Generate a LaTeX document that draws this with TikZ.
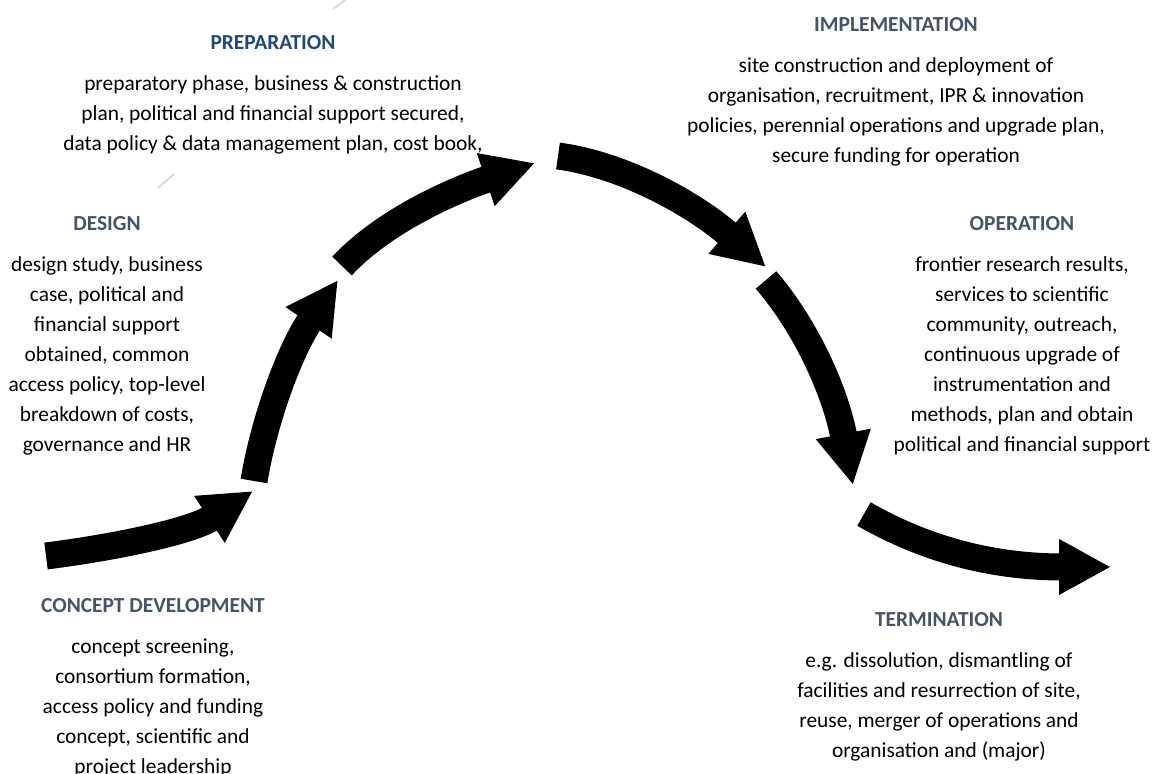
\documentclass[tikz,border=0pt]{standalone}
\usepackage{fontspec}
\setmainfont{Carlito}
\usetikzlibrary{positioning,arrows.meta}
\definecolor{stageblue}{HTML}{1F497D}
\definecolor{stagegrey}{HTML}{44546A}

\begin{document}
\begin{tikzpicture}
		[x=0.5pt,y=-0.5pt,
			stage/.style={font=\fontsize{10.7}{15}\selectfont\bfseries, text=stagegrey, inner sep=0pt},
			blurb/.style={font=\fontsize{10.7}{15}\selectfont, align=center, inner sep=0pt},
			flow/.style={line width=13.5pt, -{Triangle[length=26pt,width=26pt]}}]
		\useasboundingbox (0,0) rectangle (1158,774);

		% stray marks
		\draw[gray!35, line width=0.8pt] (333,9) -- (348,-2);
		\draw[gray!35, line width=0.8pt] (158,188) -- (174,174);

		% phases
		\node[stage, text=stageblue] (prep) at (273,43) {PREPARATION};
		\node[blurb, below=12.5pt of prep] (prep-text) {preparatory phase, business \& construction\\
			plan, political and financial support secured,\\
			data policy \& data management plan, cost book,};

		\node[stage] (impl) at (896,25) {IMPLEMENTATION};
		\node[blurb, below=12.5pt of impl] (impl-text) {site construction and deployment of\\
			organisation, recruitment, IPR \& innovation\\
			policies, perennial operations and upgrade plan,\\
			secure funding for operation};

		\node[stage] (design) at (107,224) {DESIGN};
		\node[blurb, below=12.5pt of design] (design-text) {design study, business\\
			case, political and\\
			financial support\\
			obtained, common\\
			access policy, top-level\\
			breakdown of costs,\\
			governance and HR};

		\node[stage] (oper) at (1022,224) {OPERATION};
		\node[blurb, below=12.5pt of oper] (oper-text) {frontier research results,\\
			services to scientific\\
			community, outreach,\\
			continuous upgrade of\\
			instrumentation and\\
			methods, plan and obtain\\
			political and financial support};

		\node[stage] (concept) at (153,606) {CONCEPT DEVELOPMENT};
		\node[blurb, below=12.5pt of concept] (concept-text) {concept screening,\\
			consortium formation,\\
			access policy and funding\\
			concept, scientific and\\
			project leadership};

		\node[stage] (term) at (939,620) {TERMINATION};
		\node[blurb, below=12.5pt of term] (term-text) {e.g. dissolution, dismantling of\\
			facilities and resurrection of site,\\
			reuse, merger of operations and\\
			organisation and (major)};

		% arrows
		\coordinate (s1) at (46,556);
		\coordinate (e1) at (253,491);
		\coordinate (s2) at (254,481);
		\coordinate (e2) at (338,280);
		\coordinate (s3) at (342,266);
		\coordinate (e3) at (535,163);
		\coordinate (s4) at (558,156);
		\coordinate (e4) at (766,267);
		\coordinate (s5) at (766,280);
		\coordinate (e5) at (853,485);
		\coordinate (s6) at (864,514);
		\coordinate (e6) at (1111,567);

		\draw[flow] (s1) .. controls (110,548) and (190,532) .. (e1);
		\draw[flow] (s2) .. controls (264,420) and (290,350) .. (e2);
		\draw[flow] (s3) .. controls (385,220) and (455,190) .. (e3);
		\draw[flow] (s4) .. controls (625,165) and (695,205) .. (e4);
		\draw[flow] (s5) .. controls (805,325) and (835,390) .. (e5);
		\draw[flow] (s6) .. controls (935,555) and (1005,567) .. (e6);
	\end{tikzpicture}
\end{document}
